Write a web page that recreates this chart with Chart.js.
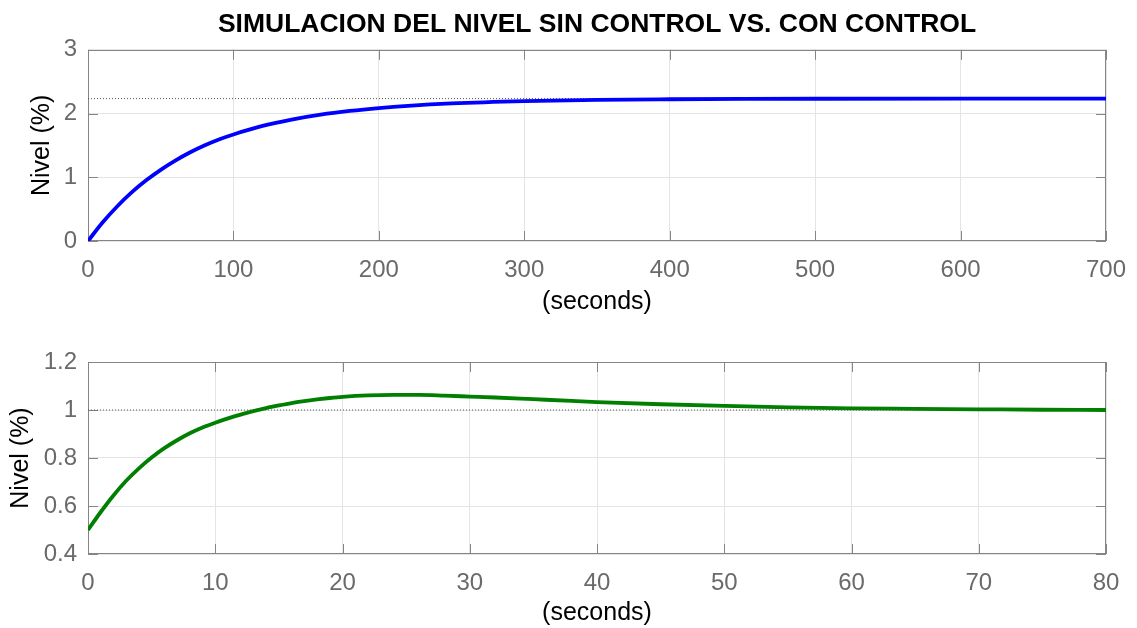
<!DOCTYPE html>
<html>
<head>
<meta charset="utf-8">
<script src="https://cdn.jsdelivr.net/npm/chart.js@4.4.0/dist/chart.umd.min.js"></script>
<style>
    html, body { margin: 0; padding: 0; background: #fff; }
    #wrap { position: relative; width: 1137px; height: 628px; overflow: hidden; }
    canvas { position: absolute; left: 0; }
</style>
</head>
<body>
<div id="wrap">
    <canvas id="sinControl" width="1137" height="320" style="top:0"></canvas>
    <canvas id="conControl" width="1137" height="308" style="top:320px"></canvas>
</div>
<script>
// =========================
// Nivel sin control (lazo abierto)
// =========================
const tSin = [0, 10, 20, 30, 40, 50, 60, 70, 80, 90, 100, 120, 140, 160, 180, 200, 220, 250, 300, 350, 400, 450, 500, 600, 700];
const nivelSin = [0, 0.29, 0.542, 0.762, 0.952, 1.117, 1.262, 1.389, 1.499, 1.594, 1.672, 1.805, 1.905, 1.982, 2.04, 2.085, 2.12, 2.158, 2.195, 2.215, 2.224, 2.229, 2.232, 2.234, 2.234];
const refSin = 2.234;
const xTicksSin = [0, 100, 200, 300, 400, 500, 600, 700];
const yTicksSin = [0, 1, 2, 3];

// =========================
// Nivel con control (lazo cerrado)
// =========================
const tCon = [0, 1, 2, 3, 4, 5, 6, 7, 8, 9, 10, 11, 12, 13, 14, 15, 16, 17, 18, 19, 20, 22, 24, 26, 28, 30, 32, 35, 38, 40, 45, 50, 55, 60, 65, 70, 75, 80];
const nivelCon = [0.5, 0.575, 0.644, 0.705, 0.757, 0.802, 0.841, 0.874, 0.903, 0.927, 0.947, 0.965, 0.981, 0.995, 1.008, 1.019, 1.029, 1.037, 1.044, 1.05, 1.055, 1.061, 1.063, 1.063, 1.06, 1.056, 1.052, 1.045, 1.038, 1.033, 1.024, 1.017, 1.011, 1.007, 1.005, 1.003, 1.001, 1.0];
const refCon = 1.0;
const xTicksCon = [0, 10, 20, 30, 40, 50, 60, 70, 80];
const yTicksCon = [0.4, 0.6, 0.8, 1, 1.2];

const FONT = "'Liberation Sans', Arial, Helvetica, sans-serif";
const BOX_COLOR = "#858585";
const GRID_COLOR = "#e4e4e4";
const TICK_COLOR = "#6a6a6a";

// caja estilo MATLAB con marcas hacia adentro
const matlabBox = {
    id: "matlabBox",
    beforeDatasetsDraw(chart) {
        const { ctx, chartArea: a, scales } = chart;
        ctx.save();
        ctx.strokeStyle = BOX_COLOR;
        ctx.lineWidth = 1;
        ctx.beginPath();
        scales.x.ticks.forEach((t) => {
            const px = Math.round(scales.x.getPixelForValue(t.value)) + 0.5;
            ctx.moveTo(px, a.bottom);
            ctx.lineTo(px, a.bottom - 10);
            ctx.moveTo(px, a.top);
            ctx.lineTo(px, a.top + 10);
        });
        scales.y.ticks.forEach((t) => {
            const py = Math.round(scales.y.getPixelForValue(t.value)) + 0.5;
            ctx.moveTo(a.left, py);
            ctx.lineTo(a.left + 10, py);
            ctx.moveTo(a.right, py);
            ctx.lineTo(a.right - 10, py);
        });
        ctx.stroke();
        ctx.strokeRect(Math.round(a.left) + 0.5, Math.round(a.top) + 0.5,
            Math.round(a.right - a.left) - 1, Math.round(a.bottom - a.top) - 1);
        ctx.restore();
    },
};

function buildChart(canvasId, cfg) {
    const ctx = document.getElementById(canvasId).getContext("2d");
    const lastX = cfg.xTicks[cfg.xTicks.length - 1];

    return new Chart(ctx, {
        type: "line",
        data: {
            datasets: [
                {
                    data: cfg.t.map((t, i) => ({ x: t, y: cfg.nivel[i] })),
                    borderColor: cfg.color,
                    borderWidth: 3.8,
                    pointRadius: 0,
                    cubicInterpolationMode: "monotone",
                    order: 0,
                },
                {
                    data: [{ x: cfg.xTicks[0], y: cfg.ref }, { x: lastX, y: cfg.ref }],
                    borderColor: "#555",
                    borderWidth: 1,
                    borderDash: [1, 2],
                    pointRadius: 0,
                    order: 1,
                },
            ],
        },
        options: {
            responsive: false,
            animation: false,
            devicePixelRatio: 1,
            layout: { padding: cfg.padding },
            plugins: {
                legend: { display: false },
                tooltip: { enabled: false },
                title: cfg.title
                    ? {
                          display: true,
                          text: cfg.title,
                          fullSize: false,
                          color: "#000",
                          font: { family: FONT, size: 26.5, weight: "bold" },
                          padding: { top: 9, bottom: 9 },
                      }
                    : { display: false },
            },
            scales: {
                x: {
                    type: "linear",
                    min: cfg.xTicks[0],
                    max: lastX,
                    afterBuildTicks: (s) => { s.ticks = cfg.xTicks.map((v) => ({ value: v })); },
                    afterFit: (s) => {
                        s.height = cfg.xHeight;
                        s.paddingLeft = 0;
                        s.paddingRight = 0;
                    },
                    grid: { color: GRID_COLOR, drawTicks: false },
                    border: { display: false },
                    ticks: {
                        color: TICK_COLOR,
                        padding: 15,
                        maxRotation: 0,
                        font: { family: FONT, size: 24 },
                        callback: (v) => String(v),
                    },
                    title: {
                        display: true,
                        text: "(seconds)",
                        color: "#000",
                        font: { family: FONT, size: 25 },
                        padding: { top: 0, bottom: cfg.xTitleBottom },
                    },
                },
                y: {
                    type: "linear",
                    min: cfg.yTicks[0],
                    max: cfg.yTicks[cfg.yTicks.length - 1],
                    afterBuildTicks: (s) => { s.ticks = cfg.yTicks.map((v) => ({ value: v })); },
                    afterFit: (s) => {
                        s.width = 88;
                        s.paddingTop = 0;
                        s.paddingBottom = 0;
                    },
                    grid: { color: GRID_COLOR, drawTicks: false },
                    border: { display: false },
                    ticks: {
                        color: TICK_COLOR,
                        padding: 11,
                        font: { family: FONT, size: 24 },
                        callback: (v) => String(Math.round(v * 10) / 10),
                    },
                    title: {
                        display: true,
                        text: "Nivel (%)",
                        color: "#000",
                        font: { family: FONT, size: 25 },
                        padding: { top: cfg.yTitleLeft, bottom: 0 },
                    },
                },
            },
        },
        plugins: [matlabBox],
    });
}

buildChart("sinControl", {
    t: tSin,
    nivel: nivelSin,
    ref: refSin,
    xTicks: xTicksSin,
    yTicks: yTicksSin,
    color: "#0000ff",
    title: "SIMULACION DEL NIVEL SIN CONTROL VS. CON CONTROL",
    padding: { left: 0, right: 31, top: 0, bottom: 0 },
    xHeight: 79,
    xTitleBottom: 3,
    yTitleLeft: 27,
});

buildChart("conControl", {
    t: tCon,
    nivel: nivelCon,
    ref: refCon,
    xTicks: xTicksCon,
    yTicks: yTicksCon,
    color: "#007f00",
    title: null,
    padding: { left: 0, right: 31, top: 42, bottom: 0 },
    xHeight: 74,
    xTitleBottom: 0,
    yTitleLeft: 6,
});
</script>
</body>
</html>
